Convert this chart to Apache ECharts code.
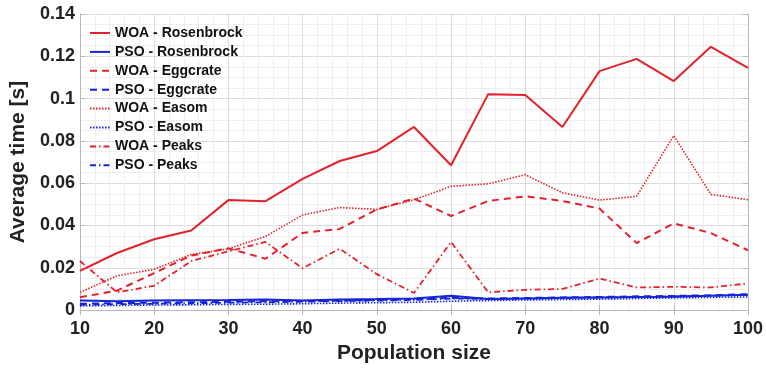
<!DOCTYPE html>
<html>
<head>
<meta charset="utf-8">
<script src="https://cdn.jsdelivr.net/npm/echarts@6/dist/echarts.min.js"></script>
<style>
html,body{margin:0;padding:0;background:#fff;}
#chart{width:766px;height:369px;}
</style>
</head>
<body>
<div id="chart"></div>
<script>
const populationSize = [10,15,20,25,30,35,40,45,50,55,60,65,70,75,80,85,90,95,100];

const woaRosenbrock = [0.0185,0.027,0.0335,0.0376,0.052,0.0515,0.062,0.0705,0.0752,0.0866,0.0685,0.1021,0.1017,0.0866,0.113,0.1188,0.1083,0.1245,0.1145];
const psoRosenbrock = [0.0045,0.0042,0.0045,0.0047,0.0048,0.005,0.0045,0.005,0.0052,0.0055,0.0068,0.0052,0.0055,0.0058,0.006,0.0062,0.0063,0.0068,0.0072];
const woaEggcrate   = [0.0061,0.0092,0.0175,0.0258,0.0292,0.0243,0.0365,0.0384,0.0476,0.0527,0.0445,0.0516,0.0538,0.0516,0.048,0.0317,0.041,0.0364,0.0283];
const psoEggcrate   = [0.003,0.0033,0.0035,0.0037,0.004,0.0042,0.0042,0.0045,0.0048,0.005,0.0058,0.0055,0.0057,0.006,0.0062,0.0065,0.0067,0.007,0.0075];
const woaEasom      = [0.0084,0.0162,0.0193,0.0263,0.029,0.0348,0.045,0.0485,0.0476,0.0522,0.0585,0.0597,0.064,0.0555,0.052,0.0538,0.0825,0.0547,0.0522];
const psoEasom      = [0.002,0.0022,0.0024,0.0025,0.0027,0.0028,0.003,0.0033,0.0035,0.0037,0.0042,0.0045,0.0048,0.005,0.0052,0.0055,0.0058,0.006,0.0062];
const woaPeaks      = [0.0232,0.0084,0.0115,0.0232,0.0278,0.0322,0.0198,0.029,0.017,0.0081,0.0322,0.0084,0.0096,0.01,0.0149,0.0107,0.011,0.0107,0.0126];
const psoPeaks      = [0.0025,0.0028,0.003,0.0032,0.0035,0.0037,0.004,0.0042,0.0045,0.0048,0.0055,0.0052,0.0055,0.0058,0.006,0.0062,0.0065,0.0068,0.0072];

const RED = '#e3212b';
const BLUE = '#1424d9';
const FONT = '"Liberation Sans", Arial, sans-serif';

function pairs(vals){ return populationSize.map((x,i)=>[x, vals[i]]); }

function mk(name, vals, color, type, width){
  return {
    name: name, type: 'line', data: pairs(vals), symbol: 'none', showSymbol: false,
    lineStyle: {color: color, width: width, type: type},
    itemStyle: {color: color},
    emphasis: {disabled: true}, animation: false, z: color === BLUE ? 3 : 2
  };
}

const dashed = [7,5];
const dotted = [1.5,1.5];
const dashDot = [6,3,1.5,3];

const series = [
  mk('WOA - Rosenbrock', woaRosenbrock, RED, 'solid', 2),
  mk('PSO - Rosenbrock', psoRosenbrock, BLUE, 'solid', 2),
  mk('WOA - Eggcrate', woaEggcrate, RED, dashed, 2),
  mk('PSO - Eggcrate', psoEggcrate, BLUE, dashed, 2),
  mk('WOA - Easom', woaEasom, RED, dotted, 1.6),
  mk('PSO - Easom', psoEasom, BLUE, dotted, 1.6),
  mk('WOA - Peaks', woaPeaks, RED, dashDot, 1.8),
  mk('PSO - Peaks', psoPeaks, BLUE, dashDot, 1.8)
];

const chart = echarts.init(document.getElementById('chart'), null, {renderer:'canvas'});

const axisLineStyle = {color:'#b8b8b8', width:1};
const option = {
  backgroundColor: '#fff',
  animation: false,
  grid: {left: 77, right: 17, top: 14, bottom: 54.5, containLabel: false},
  legend: {
    orient: 'vertical', left: 84, top: 21,
    itemWidth: 20, itemHeight: 14, itemGap: 4.9,
    itemStyle: {opacity: 0},
    textStyle: {fontFamily: FONT, fontWeight: 'bold', fontSize: 14, color: '#111'},
    data: series.map(s=>s.name)
  },
  xAxis: [{
    type: 'value', min: 10, max: 100, interval: 10, position: 'bottom',
    name: 'Population size', nameLocation: 'middle', nameGap: 30,
    nameTextStyle: {fontFamily: FONT, fontWeight: 'bold', fontSize: 21, color: '#222'},
    axisLine: {show: true, lineStyle: axisLineStyle},
    axisTick: {show: true, inside: true, length: 5, lineStyle: axisLineStyle},
    axisLabel: {fontFamily: FONT, fontWeight: 'bold', fontSize: 18, color: '#222', margin: 10},
    splitLine: {show: true, lineStyle: {color: '#dcdcdc', width: 1}},
    minorTick: {show: false, splitNumber: 5},
    minorSplitLine: {show: true, lineStyle: {color: '#efefef', width: 1}}
  },{
    type: 'value', min: 10, max: 100, interval: 10, position: 'top',
    axisLine: {show: true, lineStyle: axisLineStyle},
    axisTick: {show: true, inside: true, length: 5, lineStyle: axisLineStyle},
    axisLabel: {show: false}, splitLine: {show: false}
  }],
  yAxis: [{
    type: 'value', min: 0, max: 0.14, interval: 0.02, position: 'left',
    name: 'Average time [s]', nameLocation: 'middle', nameGap: 44,
    nameTextStyle: {fontFamily: FONT, fontWeight: 'bold', fontSize: 21, color: '#222'},
    axisLine: {show: true, lineStyle: axisLineStyle},
    axisTick: {show: true, inside: true, length: 5, lineStyle: axisLineStyle},
    axisLabel: {fontFamily: FONT, fontWeight: 'bold', fontSize: 18, color: '#222', margin: 5,
      formatter: v => (Math.round(v*100)/100).toString()},
    splitLine: {show: true, lineStyle: {color: '#dcdcdc', width: 1}},
    minorTick: {show: false, splitNumber: 4},
    minorSplitLine: {show: true, lineStyle: {color: '#efefef', width: 1}}
  },{
    type: 'value', min: 0, max: 0.14, interval: 0.02, position: 'right',
    axisLine: {show: true, lineStyle: axisLineStyle},
    axisTick: {show: true, inside: true, length: 5, lineStyle: axisLineStyle},
    axisLabel: {show: false}, splitLine: {show: false}
  }],
  series: series
};
chart.setOption(option);
</script>
</body>
</html>
